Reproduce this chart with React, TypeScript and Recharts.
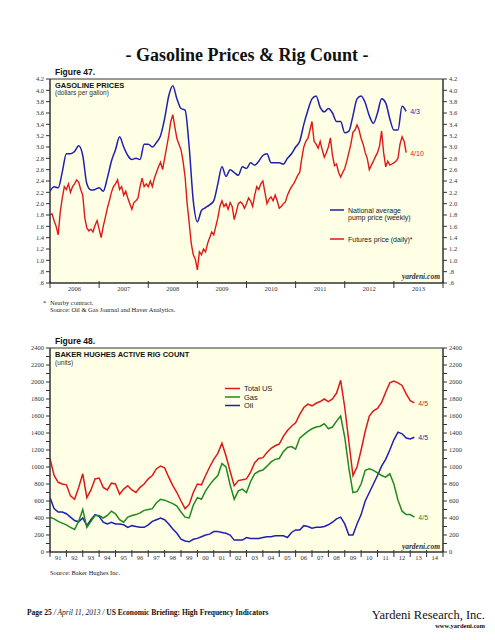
import { LineChart, Line, XAxis, YAxis, ReferenceArea } from "recharts";

// Figure 47 – gasoline prices, $/gal
// pump price: monthly, starting Jan 2006 (last point = 4/3/2013)
const pumpPrice = [
  2.22, 2.3, 2.28, 2.56, 2.88, 2.88, 2.92, 3.02, 2.85, 2.35, 2.24, 2.25,
  2.28, 2.22, 2.45, 2.75, 2.95, 3.18, 3.0, 2.85, 2.78, 2.8, 2.78, 3.05,
  3.05, 3.0, 3.08, 3.2, 3.5, 3.9, 4.08, 3.85, 3.68, 3.65, 3.0, 2.05,
  1.68, 1.88, 1.93, 1.98, 2.05, 2.35, 2.65, 2.48, 2.6, 2.55, 2.5, 2.65,
  2.62, 2.72, 2.68, 2.75, 2.85, 2.88, 2.72, 2.72, 2.72, 2.7, 2.8, 2.88,
  3.0, 3.1, 3.4, 3.65, 3.85, 3.9, 3.7, 3.62, 3.68, 3.6, 3.45, 3.45,
  3.25, 3.28, 3.55, 3.85, 3.9, 3.78, 3.55, 3.42, 3.6, 3.85, 3.78, 3.5,
  3.3, 3.3, 3.72, 3.63,
];

// futures price (nearby contract): twice a month, starting Jan 2006 (last point = 4/10/2013)
const futuresPrice = [
  1.8, 1.82, 1.7, 1.6, 1.45, 1.85, 2.1, 2.3, 2.25, 2.35, 2.2, 2.3,
  2.35, 2.42, 2.38, 2.25, 2.15, 1.75, 1.57, 1.52, 1.55, 1.5, 1.62, 1.7,
  1.55, 1.4, 1.6, 1.75, 1.92, 2.05, 2.2, 2.3, 2.35, 2.42, 2.25, 2.3,
  2.15, 2.22, 2.1, 2.0, 1.9, 2.02, 2.05, 2.1, 2.3, 2.45, 2.3, 2.35,
  2.3, 2.4, 2.3, 2.45, 2.55, 2.65, 2.73, 2.6, 2.8, 3.0, 3.2, 3.45,
  3.57, 3.35, 3.15, 3.05, 2.95, 2.75, 2.47, 2.0, 1.66, 1.3, 1.1, 1.02,
  0.83, 1.15, 1.1, 1.2, 1.15, 1.3, 1.4, 1.5, 1.45, 1.6, 1.75, 1.95,
  2.05, 1.95, 2.0, 1.9, 2.02, 1.95, 1.72, 1.85, 2.0, 2.03, 2.0, 1.92,
  2.0, 2.1, 2.05, 1.95, 2.15, 2.3, 2.25, 2.35, 2.4, 2.2, 2.0, 2.08,
  2.12, 2.05, 2.15, 2.05, 1.92, 1.95, 2.0, 2.03, 2.15, 2.23, 2.3, 2.35,
  2.42, 2.5, 2.55, 2.8, 3.0, 3.1, 3.15, 3.3, 3.45, 3.1, 3.05, 2.98,
  3.1, 2.95, 2.82, 2.9, 3.0, 3.16, 2.85, 2.67, 2.7, 2.55, 2.47, 2.55,
  2.62, 2.75, 2.9, 3.05, 3.26, 3.3, 3.39, 3.3, 3.15, 3.05, 2.9, 2.8,
  2.6, 2.68, 2.75, 2.83, 2.9, 3.02, 3.28, 2.9, 2.65, 2.75, 2.68, 2.7,
  2.72, 2.75, 2.8, 3.05, 3.18, 3.1, 2.9,
];

// Figure 48 – Baker Hughes rig count, quarterly from 1991 Q1 (last point = 4/5/2013)
const totalRigs = [
  1100, 900, 820, 800, 790, 660, 620, 760, 920, 640, 730, 860,
  870, 760, 730, 810, 800, 680, 740, 780, 730, 700, 760, 800,
  860, 900, 980, 1010, 990, 880, 780, 700, 600, 510, 560, 700,
  800, 790, 900, 1000, 1090, 1160, 1280, 1130, 950, 780, 840, 850,
  860, 940, 1050, 1100, 1110, 1170, 1220, 1250, 1270, 1360, 1430, 1480,
  1520, 1620, 1700, 1740, 1720, 1750, 1770, 1800, 1770, 1800, 1870, 2020,
  1700, 1300, 900, 1000, 1200, 1420, 1600, 1660, 1690, 1760, 1880, 1990,
  2010, 1990, 1960, 1860, 1780, 1755,
];
const gasRigs = [
  410, 390, 360, 340, 320, 290, 265, 360, 500, 290, 360, 430,
  430, 400, 430, 480, 450, 380, 350, 410, 430, 440, 460, 490,
  500, 510, 580, 620, 610, 590, 570, 540, 470, 410, 400, 550,
  640, 620, 720, 790, 850, 900, 1040, 1000, 790, 620, 720, 740,
  700, 830, 920, 950, 965, 1010, 1060, 1090, 1100, 1180, 1230, 1240,
  1210, 1340, 1380, 1420, 1450, 1470, 1480, 1510, 1450, 1470, 1540, 1600,
  1350, 990, 700, 710, 800, 960, 980, 960, 930, 900, 880, 920,
  800, 610, 480, 440, 440, 410,
];
const oilRigs = [
  640, 510, 470, 470, 450, 410, 370, 355, 400, 310, 380, 440,
  420, 350, 330, 350, 330, 330, 320, 290, 310, 300, 290, 290,
  320, 360, 380, 400, 380, 330, 270, 220, 150, 130, 120, 150,
  160, 180, 200, 210, 240, 240, 230, 220, 200, 140, 140, 140,
  170, 160, 160, 160, 170, 180, 180, 190, 190, 190, 170, 230,
  260, 260, 310, 300, 280, 290, 290, 300, 320, 350, 390, 410,
  330, 200, 200, 330, 440, 600, 700, 800, 900, 1010, 1090, 1200,
  1320, 1410, 1390, 1340, 1330, 1350,
];

const gasYears = [2006, 2007, 2008, 2009, 2010, 2011, 2012, 2013, 2014];
const gasTicks = [0.6, 0.8, 1.0, 1.2, 1.4, 1.6, 1.8, 2.0, 2.2, 2.4, 2.6, 2.8, 3.0, 3.2, 3.4, 3.6, 3.8, 4.0, 4.2];
const rigYears = Array.from({ length: 25 }, (_, i) => 1991 + i);
const rigTicks = Array.from({ length: 25 }, (_, i) => i * 100);

const pumpData = pumpPrice.map((v, i) => ({ t: 2006 + i / 12, v }));
const futuresData = futuresPrice.map((v, i) => ({ t: 2006 + i / 24, v }));
const totalData = totalRigs.map((v, i) => ({ t: 1991 + i / 4, v }));
const gasData = gasRigs.map((v, i) => ({ t: 1991 + i / 4, v }));
const oilData = oilRigs.map((v, i) => ({ t: 1991 + i / 4, v }));

const SERIF = '"Liberation Serif", "Times New Roman", serif';
const SANS = '"Liberation Sans", Arial, sans-serif';
const AXIS = "#333";
const PLOT_BG = "#FFFFE6";
const BLUE = "#1F1FB0";
const RED = "#E01818";
const GREEN = "#1E8A1E";
const PLOT_W = 393;

const YearTick = (props: any) => {
  const { x, y, payload, half, last, fmt } = props;
  const v = payload.value;
  return (
    <g>
      <line x1={x} x2={x} y1={y - 2} y2={y + 5} stroke={AXIS} strokeWidth={1} />
      {v < last && (
        <text x={x + half} y={y + 8} textAnchor="middle" fontSize={6.5} fontFamily={SERIF} fill={AXIS}>
          {fmt(v)}
        </text>
      )}
    </g>
  );
};

const endLabel = (text: string, color: string, lastIndex: number) => (p: any) =>
  p.index === lastIndex ? (
    <text x={p.x + 4} y={p.y + 3} fontSize={7} fontFamily={SANS} fill={color}>
      {text}
    </text>
  ) : null;

const yTick = { fontSize: 6.5, fontFamily: SERIF, fill: AXIS };

const fmtPrice = (v: number) => (v < 1 ? "." + Math.round(v * 10) : v.toFixed(1));
const fmtRigs = (v: number) => (v % 200 === 0 ? String(v) : "");

const GasolineChart = () => (
  <LineChart width={495} height={300} margin={{ top: 79, right: 0, bottom: 0, left: 0 }}>
    <XAxis
      type="number"
      dataKey="t"
      domain={[2006, 2014]}
      ticks={gasYears}
      interval={0}
      allowDataOverflow
      height={17}
      tickSize={0}
      tickMargin={0}
      tickLine={false}
      axisLine={{ stroke: AXIS }}
      tick={<YearTick half={PLOT_W / 16} last={2014} fmt={(v: number) => String(v)} />}
    />
    <YAxis yAxisId="left" width={50} domain={[0.6, 4.2]} ticks={gasTicks} interval={0} allowDataOverflow
      tickFormatter={fmtPrice} tick={yTick} tickSize={4} tickMargin={2}
      axisLine={{ stroke: AXIS }} tickLine={{ stroke: AXIS }} />
    <YAxis yAxisId="right" orientation="right" width={52} domain={[0.6, 4.2]} ticks={gasTicks} interval={0} allowDataOverflow
      tickFormatter={fmtPrice} tick={yTick} tickSize={4} tickMargin={2}
      axisLine={{ stroke: AXIS }} tickLine={{ stroke: AXIS }} />
    <ReferenceArea yAxisId="left" x1={2006} x2={2014} y1={0.6} y2={4.2} fill={PLOT_BG} fillOpacity={1} stroke={AXIS} strokeWidth={1} />
    <Line yAxisId="left" data={futuresData} dataKey="v" stroke={RED} strokeWidth={1.4} dot={false}
      isAnimationActive={false} label={endLabel("4/10", RED, futuresData.length - 1)} />
    <Line yAxisId="left" data={pumpData} dataKey="v" stroke={BLUE} strokeWidth={1.5} dot={false} type="monotone"
      isAnimationActive={false} label={endLabel("4/3", BLUE, pumpData.length - 1)} />
  </LineChart>
);

const RigChart = () => (
  <LineChart width={495} height={240} margin={{ top: 18, right: 0, bottom: 0, left: 0 }}>
    <XAxis
      type="number"
      dataKey="t"
      domain={[1991, 2015]}
      ticks={rigYears}
      interval={0}
      allowDataOverflow
      height={18}
      tickSize={0}
      tickMargin={0}
      tickLine={false}
      axisLine={{ stroke: AXIS }}
      tick={<YearTick half={PLOT_W / 48} last={2015} fmt={(v: number) => String(v % 100).padStart(2, "0")} />}
    />
    <YAxis yAxisId="left" width={50} domain={[0, 2400]} ticks={rigTicks} interval={0} allowDataOverflow
      tickFormatter={fmtRigs} tick={yTick} tickSize={4} tickMargin={2}
      axisLine={{ stroke: AXIS }} tickLine={{ stroke: AXIS }} />
    <YAxis yAxisId="right" orientation="right" width={52} domain={[0, 2400]} ticks={rigTicks} interval={0} allowDataOverflow
      tickFormatter={fmtRigs} tick={yTick} tickSize={4} tickMargin={2}
      axisLine={{ stroke: AXIS }} tickLine={{ stroke: AXIS }} />
    <ReferenceArea yAxisId="left" x1={1991} x2={2015} y1={0} y2={2400} fill={PLOT_BG} fillOpacity={1} stroke={AXIS} strokeWidth={1} />
    <Line yAxisId="left" data={oilData} dataKey="v" stroke={BLUE} strokeWidth={1.5} dot={false}
      isAnimationActive={false} label={endLabel("4/5", BLUE, oilData.length - 1)} />
    <Line yAxisId="left" data={gasData} dataKey="v" stroke={GREEN} strokeWidth={1.5} dot={false}
      isAnimationActive={false} label={endLabel("4/5", GREEN, gasData.length - 1)} />
    <Line yAxisId="left" data={totalData} dataKey="v" stroke={RED} strokeWidth={1.5} dot={false}
      isAnimationActive={false} label={endLabel("4/5", RED, totalData.length - 1)} />
  </LineChart>
);

export default function App() {
  return (
    <div style={{ position: "absolute", left: 0, top: 0, width: 495, height: 640, background: "#fff", overflow: "hidden" }}>
      <div style={{ position: "absolute", left: 0, top: 0 }}>
        <GasolineChart />
      </div>
      <div style={{ position: "absolute", left: 0, top: 330 }}>
        <RigChart />
      </div>
      <svg width={495} height={640} style={{ position: "absolute", left: 0, top: 0, pointerEvents: "none" }}>
        <text x={247} y={61} textAnchor="middle" fontSize={18} fontWeight="bold" fontFamily={SERIF} fill="#111">
          - Gasoline Prices &amp; Rig Count -
        </text>

        {/* Figure 47 */}
        <text x={55} y={74.5} fontSize={8.5} fontWeight="bold" fontFamily={SANS} fill="#111">Figure 47.</text>
        <text x={55} y={87.5} fontSize={7.5} fontWeight="bold" fontFamily={SANS} fill="#111">GASOLINE PRICES</text>
        <text x={55} y={95} fontSize={6.5} fontFamily={SANS} fill="#333">(dollars per gallon)</text>
        <line x1={330} x2={344} y1={210} y2={210} stroke={BLUE} strokeWidth={1.5} />
        <text x={348} y={212.5} fontSize={7} fontFamily={SANS} fill="#222">National average</text>
        <text x={348} y={220} fontSize={7} fontFamily={SANS} fill="#222">pump price (weekly)</text>
        <line x1={330} x2={344} y1={239} y2={239} stroke={RED} strokeWidth={1.5} />
        <text x={348} y={241.5} fontSize={7} fontFamily={SANS} fill="#222">Futures price (daily)*</text>
        <text x={440} y={279} textAnchor="end" fontSize={7.5} fontStyle="italic" fontWeight="bold" fontFamily={SERIF} fill="#333">yardeni.com</text>
        <text x={43} y={305} fontSize={6.5} fontFamily={SERIF} fill="#222">*</text>
        <text x={50} y={305} fontSize={6.5} fontFamily={SERIF} fill="#222">Nearby contract.</text>
        <text x={50} y={311.5} fontSize={6.5} fontFamily={SERIF} fill="#222">Source: Oil &amp; Gas Journal and Haver Analytics.</text>

        {/* Figure 48 */}
        <text x={55} y={343.5} fontSize={8.5} fontWeight="bold" fontFamily={SANS} fill="#111">Figure 48.</text>
        <text x={55} y={357} fontSize={7.5} fontWeight="bold" fontFamily={SANS} fill="#111">BAKER HUGHES ACTIVE RIG COUNT</text>
        <text x={55} y={365} fontSize={6.5} fontFamily={SANS} fill="#333">(units)</text>
        <line x1={225} x2={240} y1={388.5} y2={388.5} stroke={RED} strokeWidth={1.5} />
        <text x={244} y={391} fontSize={7.5} fontFamily={SANS} fill="#222">Total US</text>
        <line x1={225} x2={240} y1={397} y2={397} stroke={GREEN} strokeWidth={1.5} />
        <text x={244} y={399.5} fontSize={7.5} fontFamily={SANS} fill="#222">Gas</text>
        <line x1={225} x2={240} y1={405.5} y2={405.5} stroke={BLUE} strokeWidth={1.5} />
        <text x={244} y={408} fontSize={7.5} fontFamily={SANS} fill="#222">Oil</text>
        <text x={440} y={549} textAnchor="end" fontSize={7.5} fontStyle="italic" fontWeight="bold" fontFamily={SERIF} fill="#333">yardeni.com</text>
        <text x={50} y={574.5} fontSize={6.5} fontFamily={SERIF} fill="#222">Source: Baker Hughes Inc.</text>

        {/* page footer */}
        <text x={27} y={615} fontSize={7.5} fontFamily={SERIF} fill="#111">
          <tspan fontWeight="bold">Page 25</tspan>
          <tspan fontStyle="italic"> / April 11, 2013 / </tspan>
          <tspan fontWeight="bold">US Economic Briefing: High Frequency Indicators</tspan>
        </text>
        <text x={485} y={619} textAnchor="end" fontSize={12.5} fontFamily={SERIF} fill="#111">Yardeni Research, Inc.</text>
        <text x={485} y={627.5} textAnchor="end" fontSize={6.5} fontWeight="bold" fontFamily={SERIF} fill="#111">www.yardeni.com</text>
      </svg>
    </div>
  );
}
